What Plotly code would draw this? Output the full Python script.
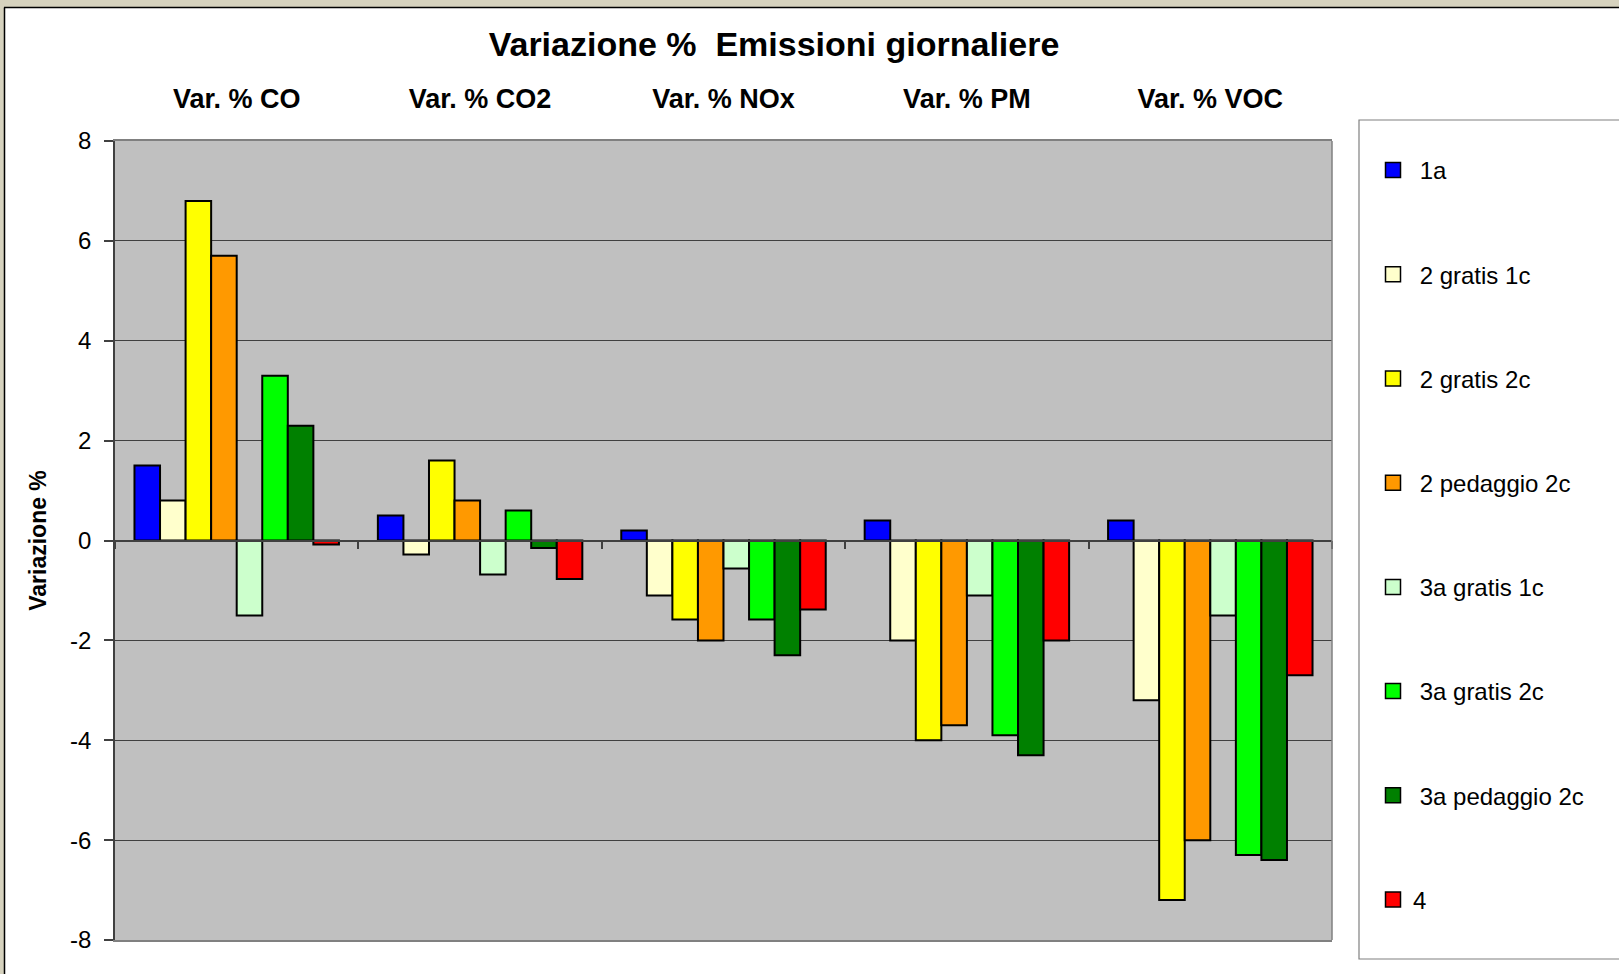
import plotly.graph_objects as go

# categories and series
categories = ["Var. % CO", "Var. % CO2", "Var. % NOx", "Var. % PM", "Var. % VOC"]

series_names = ["1a", "2 gratis 1c", "2 gratis 2c", "2 pedaggio 2c",
                "3a gratis 1c", "3a gratis 2c", "3a pedaggio 2c", "4"]

v_1a = [1.5, 0.5, 0.2, 0.4, 0.4]
v_2g1c = [0.8, -0.28, -1.1, -2.0, -3.2]
v_2g2c = [6.8, 1.6, -1.58, -4.0, -7.2]
v_2p2c = [5.7, 0.8, -2.0, -3.7, -6.0]
v_3g1c = [-1.5, -0.68, -0.56, -1.1, -1.5]
v_3g2c = [3.3, 0.6, -1.58, -3.9, -6.3]
v_3p2c = [2.3, -0.15, -2.3, -4.3, -6.4]
v_4 = [-0.08, -0.77, -1.38, -2.0, -2.7]

series_values = [v_1a, v_2g1c, v_2g2c, v_2p2c, v_3g1c, v_3g2c, v_3p2c, v_4]
colors = ["#0000FF", "#FFFFCC", "#FFFF00", "#FF9900",
          "#CCFFCC", "#00FF00", "#008000", "#FF0000"]

y_ticks = [-8, -6, -4, -2, 0, 2, 4, 6, 8]

FONT = "Arial, Liberation Sans, sans-serif"

W, H = 1619, 974
L, R, T, B = 115, 1332, 141, 940


def px_x(p):
    return (p - L) / (R - L)


def px_y(p):
    return (B - p) / (B - T)


fig = go.Figure()

for name, vals, col in zip(series_names, series_values, colors):
    fig.add_trace(go.Bar(
        x=categories, y=vals, name=name, showlegend=False,
        marker=dict(color=col, line=dict(color="black", width=2)),
    ))

# legend entries with bigger square swatches
for name, col in zip(series_names, colors):
    label = name if name == "4" else "\u00a0" + name
    fig.add_trace(go.Scatter(
        x=[None], y=[None], mode="markers", name=label, legendgroup=name,
        marker=dict(symbol="square", size=15, color=col,
                    line=dict(color="black", width=1.5)),
        hoverinfo="skip",
    ))

# helper trace so the zero-line category axis is drawn
fig.add_trace(go.Scatter(x=[None], y=[None], xaxis="x2", showlegend=False,
                         hoverinfo="skip"))

fig.update_layout(
    width=W, height=H,
    margin=dict(l=L, r=W - R, t=T, b=H - B),
    paper_bgcolor="white",
    plot_bgcolor="#C0C0C0",
    barmode="group",
    bargap=0.16,
    bargroupgap=0,
    font=dict(family=FONT, color="black"),
    title=dict(
        text="<b>Variazione %  Emissioni giornaliere</b>",
        x=px_x(774), xref="paper", xanchor="center",
        y=1 - 44 / H, yref="container", yanchor="middle",
        font=dict(size=34, family=FONT, color="black"),
    ),
    xaxis=dict(
        side="top", showgrid=False, ticks="", showline=True, mirror=True,
        linecolor="#808080", linewidth=1.5,
        tickfont=dict(size=27, family=FONT, weight="bold"),
        ticklabelstandoff=20,
    ),
    xaxis2=dict(
        overlaying="x", anchor="free", position=0.5, side="bottom",
        range=[-0.5, 4.5], showgrid=False, zeroline=False,
        showline=True, linecolor="#404040", linewidth=1.5,
        ticks="outside", ticklen=8, tickwidth=1.5, tickcolor="#404040",
        tickvals=[-0.5, 0.5, 1.5, 2.5, 3.5, 4.5], showticklabels=False,
    ),
    yaxis=dict(
        range=[-8, 8], tickvals=y_ticks, ticktext=[str(v) for v in y_ticks],
        showgrid=True, gridcolor="#404040",
        gridwidth=1, zeroline=False, showline=True, linecolor="#404040",
        linewidth=1.5, ticks="outside", ticklen=9, tickwidth=1.5,
        tickcolor="#404040", tickfont=dict(size=24, family=FONT),
        ticklabelstandoff=8,
        title=dict(text="<b>Variazione %</b>", standoff=17,
                   font=dict(size=23, family=FONT)),
    ),
    legend=dict(
        x=px_x(1373), xanchor="left", y=px_y(148), yanchor="top",
        bgcolor="rgba(0,0,0,0)", borderwidth=0,
        font=dict(size=24, family=FONT),
        tracegroupgap=70, traceorder="grouped", maxheight=974,
    ),
    showlegend=True,
)

shapes = [
    # right border of plot area
    dict(type="line", xref="paper", yref="paper", x0=1, x1=1, y0=0, y1=1,
         line=dict(color="#808080", width=1.5)),
    # legend box
    dict(type="rect", xref="paper", yref="paper",
         x0=px_x(1359), x1=px_x(1700), y0=px_y(959), y1=px_y(120),
         line=dict(color="#808080", width=1.2)),
    # outer window frame
    dict(type="rect", xref="paper", yref="paper",
         x0=px_x(-10), x1=px_x(1700), y0=px_y(7), y1=px_y(-10),
         line=dict(width=0), fillcolor="#D6D2BE"),
    dict(type="rect", xref="paper", yref="paper",
         x0=px_x(-10), x1=px_x(4), y0=px_y(1100), y1=px_y(-10),
         line=dict(width=0), fillcolor="#D6D2BE"),
    dict(type="line", xref="paper", yref="paper",
         x0=px_x(4), x1=px_x(1700), y0=px_y(7.5), y1=px_y(7.5),
         line=dict(color="black", width=1.5)),
    dict(type="line", xref="paper", yref="paper",
         x0=px_x(4.5), x1=px_x(4.5), y0=px_y(7.5), y1=px_y(1100),
         line=dict(color="black", width=1.5)),
]
fig.update_layout(shapes=shapes)

fig.write_html("out.html", config={"displayModeBar": False},
               post_script="document.body.style.margin='0';")
